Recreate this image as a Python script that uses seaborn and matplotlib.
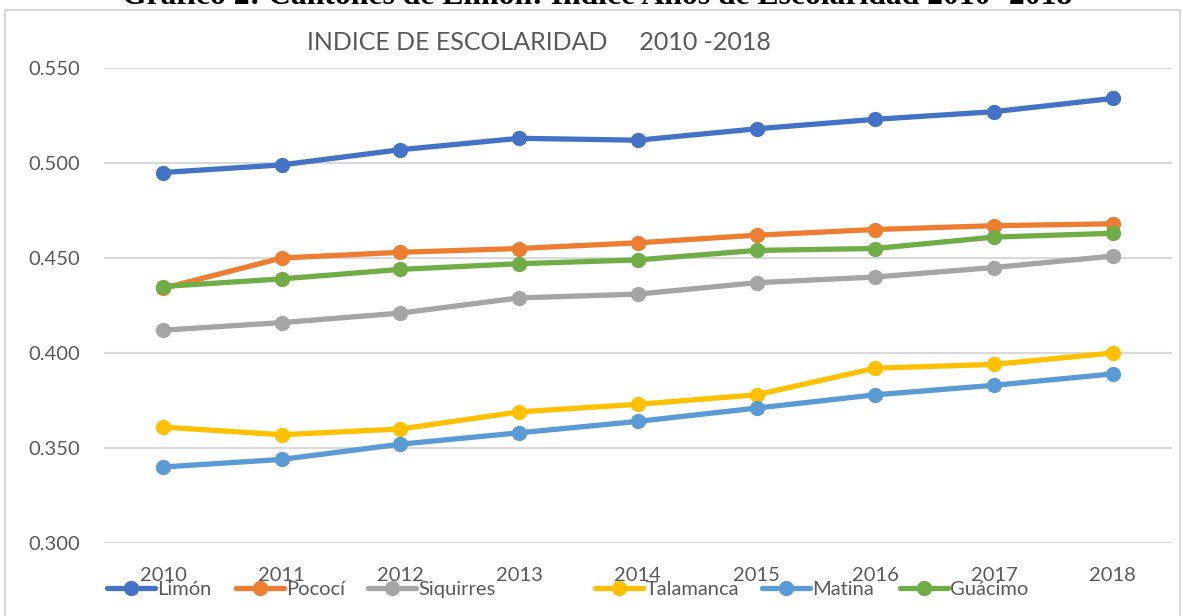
import numpy as np
import pandas as pd
import matplotlib
matplotlib.use('Agg')
import matplotlib.pyplot as plt
import seaborn as sns
from matplotlib.patches import Rectangle

# datos
anios = [2010, 2011, 2012, 2013, 2014, 2015, 2016, 2017, 2018]
limon = [0.495, 0.499, 0.507, 0.513, 0.512, 0.518, 0.523, 0.527, 0.534]
pococi = [0.434, 0.450, 0.453, 0.455, 0.458, 0.462, 0.465, 0.467, 0.468]
siquirres = [0.412, 0.416, 0.421, 0.429, 0.431, 0.437, 0.440, 0.445, 0.451]
talamanca = [0.361, 0.357, 0.360, 0.369, 0.373, 0.378, 0.392, 0.394, 0.400]
matina = [0.340, 0.344, 0.352, 0.358, 0.364, 0.371, 0.378, 0.383, 0.389]
guacimo = [0.435, 0.439, 0.444, 0.447, 0.449, 0.454, 0.455, 0.461, 0.463]

cantones = ['Limón', 'Pococí', 'Siquirres', 'Talamanca', 'Matina', 'Guácimo']
colores = ['#4472C4', '#ED7D31', '#A5A5A5', '#FFC000', '#5B9BD5', '#70AD47']
series = [limon, pococi, siquirres, talamanca, matina, guacimo]

df = pd.concat([pd.DataFrame({'Año': anios, 'Indice': s, 'Canton': c})
                for c, s in zip(cantones, series)], ignore_index=True)

sns.set_style('white')
plt.rcParams['font.family'] = ['Lato', 'DejaVu Sans']

fig = plt.figure(figsize=(11.83, 6.16), dpi=100)
# marco gris del grafico de Excel
fig.patches.append(Rectangle((5 / 1183, -0.1), 1175 / 1183, 1.1 - 10 / 616,
                             transform=fig.transFigure, fill=False,
                             edgecolor='#D9D9D9', linewidth=1.5))
ax = fig.add_axes([103.6 / 1183, 1 - 543 / 616, (1172 - 103.6) / 1183, (543 - 68) / 616])

sns.lineplot(data=df, x='Año', y='Indice', hue='Canton', hue_order=cantones,
             palette=colores, marker='o', markersize=11, markeredgewidth=0,
             linewidth=3.8, ax=ax, legend=True)

yt = [0.30, 0.35, 0.40, 0.45, 0.50, 0.55]
ax.set_xlim(2009.5, 2018.5)
ax.set_ylim(0.3, 0.55)
ax.set_xticks(anios)
ax.set_yticks(yt)
ax.set_yticklabels(['%.3f' % v for v in yt])
ax.tick_params(axis='both', length=0, labelsize=14.5, colors='#595959')
ax.tick_params(axis='x', pad=17)
ax.tick_params(axis='y', pad=17)
ax.grid(axis='y', color='#D9D9D9', linewidth=1.5)
ax.set_axisbelow(True)
for s in ax.spines.values():
    s.set_visible(False)
ax.set_xlabel('')
ax.set_ylabel('')

# leyenda: cada entrada en su sitio, como en Excel
handles, labels = ax.get_legend_handles_labels()
ax.get_legend().remove()
x_leg = [107, 236, 368, 595, 762, 900]
for h, l, xl in zip(handles, labels, x_leg):
    leg = fig.legend([h], [l], loc='center left',
                     bbox_to_anchor=(xl / 1183, 1 - 589 / 616), frameon=False,
                     fontsize=14.5, handlelength=2.4, handletextpad=0.1,
                     borderpad=0, borderaxespad=0)
    for t in leg.get_texts():
        t.set_color('#595959')

fig.text(539 / 1183, 1 - 43 / 616, 'INDICE DE ESCOLARIDAD     2010 -2018',
         ha='center', va='center', fontsize=18, color='#595959')
fig.text(597 / 1183, 1 - 4 / 616,
         'Gráfico 2: Cantones de Limón: Índice Años de Escolaridad 2010- 2018',
         ha='center', va='baseline', fontsize=22.8, fontweight='bold',
         family=['Liberation Serif', 'DejaVu Serif'], color='black')

plt.savefig('out.png', dpi=100)
